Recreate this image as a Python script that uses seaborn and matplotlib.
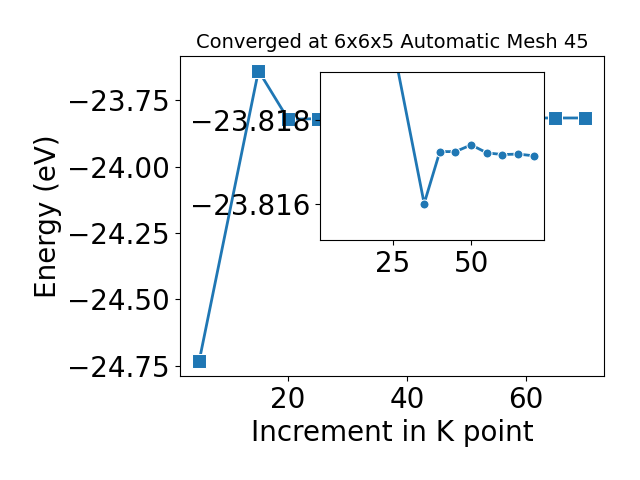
import matplotlib
matplotlib.use('Agg')
import matplotlib.pyplot as plt
import seaborn as sns

# k点增量 和 对应能量
kpoints = [5, 15, 20, 25, 35, 40, 45, 50, 55, 60, 65, 70]
energy = [-24.734, -23.639, -23.822, -23.8198, -23.8160, -23.81724,
          -23.81724, -23.8174, -23.81721, -23.81717, -23.81718, -23.81714]

fig, ax = plt.subplots(figsize=(6.4, 4.8), dpi=100)
sns.lineplot(x=kpoints, y=energy, marker='s', markersize=10, linewidth=2, ax=ax)
ax.set_title('Converged at 6x6x5 Automatic Mesh 45', fontsize=14)
ax.set_xlabel('Increment in K point', fontsize=20)
ax.set_ylabel('Energy (eV)', fontsize=20)
ax.tick_params(labelsize=20)
plt.subplots_adjust(left=0.281, right=0.944, top=0.883, bottom=0.217)

'''放大图  从25开始'''
ax2 = fig.add_axes([0.5, 0.5, 0.35, 0.35])
sns.lineplot(x=kpoints[3:], y=energy[3:], marker='o', markersize=6.5, linewidth=2, ax=ax2)
ax2.set_xlim(ax.get_xlim())
ax2.set_ylim(-23.81513, -23.81914)
ax2.set_yticks([-23.818, -23.816])
ax2.set_xticks([25, 50])
ax2.ticklabel_format(axis='y', useOffset=False)
ax2.tick_params(labelsize=20)

plt.savefig('out.png')
